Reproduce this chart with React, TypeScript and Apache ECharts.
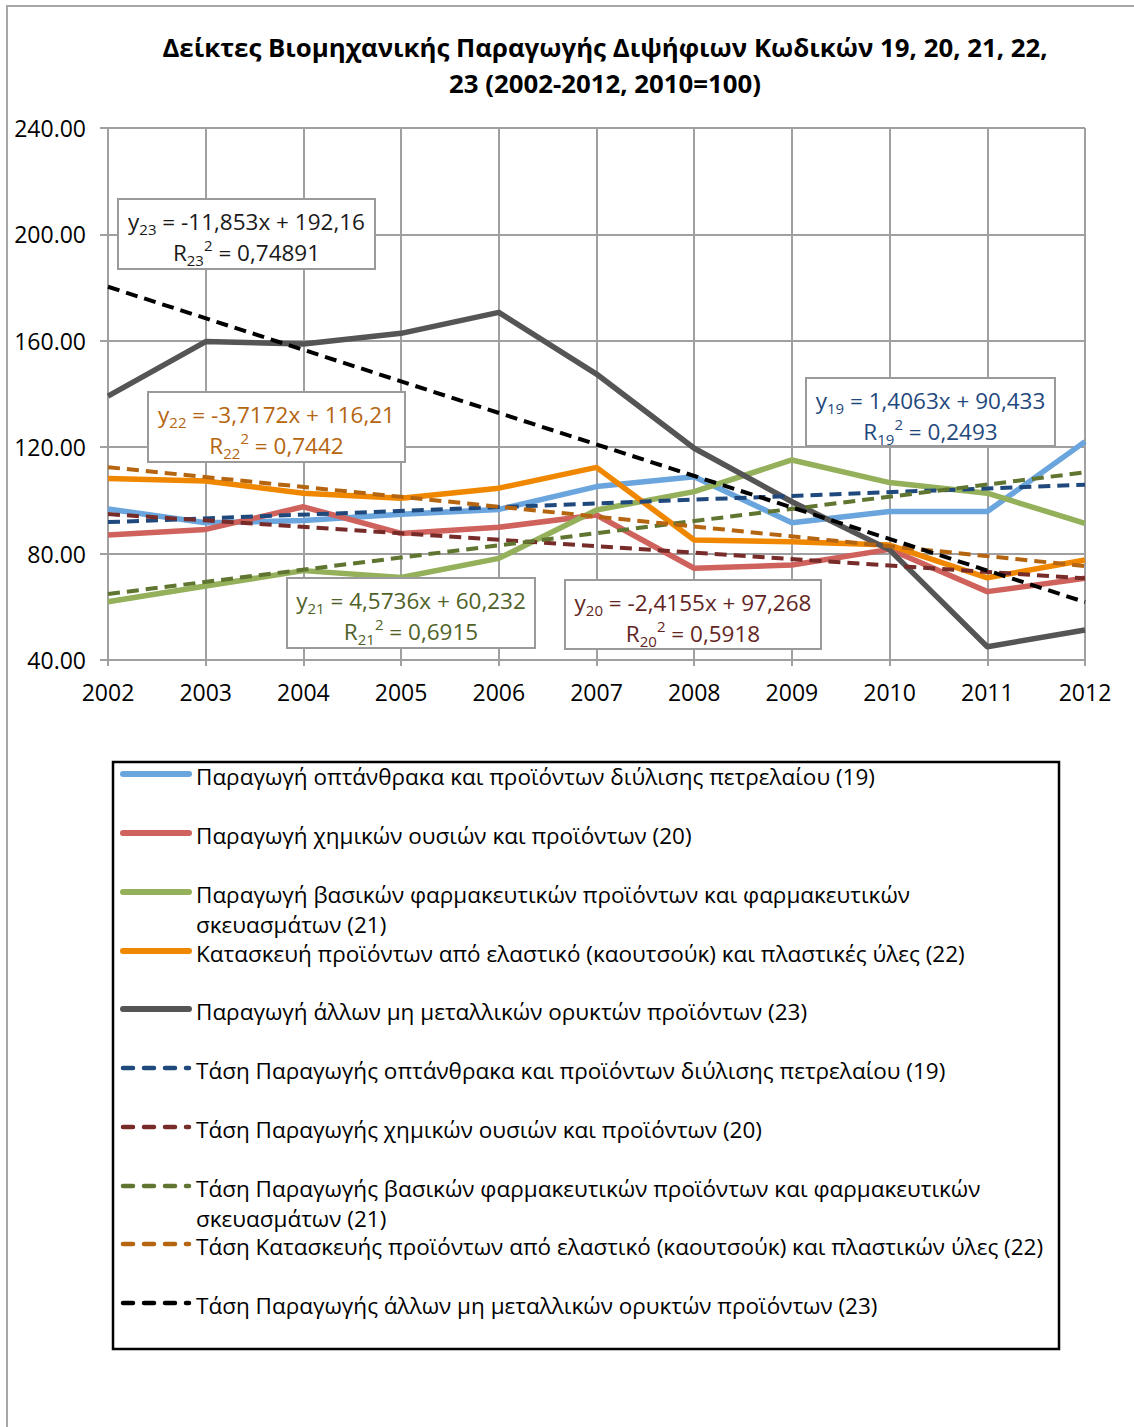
import React, { useEffect, useRef } from "react";
import * as echarts from "echarts";

const years = [2002, 2003, 2004, 2005, 2006, 2007, 2008, 2009, 2010, 2011, 2012];
const yTicks = [40, 80, 120, 160, 200, 240];

const s19 = [96.8, 91.6, 92.4, 94.8, 96.6, 105.2, 108.9, 91.6, 95.8, 95.8, 122.1];
const s20 = [87.0, 89.1, 97.6, 87.6, 89.9, 94.5, 74.5, 75.7, 81.6, 65.7, 70.7];
const s21 = [61.9, 67.8, 73.6, 71.0, 78.2, 96.4, 103.3, 115.2, 106.7, 102.7, 91.4];
const s22 = [108.2, 107.3, 102.7, 100.8, 104.6, 112.4, 85.1, 84.5, 83.2, 70.9, 77.6];
const s23 = [139.2, 159.7, 158.8, 162.8, 170.7, 147.5, 119.6, 99.5, 81.4, 45.0, 51.3];

// trend lines: value at 2002 and at 2012
const t19 = [91.84, 105.90];
const t20 = [94.85, 70.70];
const t21 = [64.81, 110.54];
const t22 = [112.49, 75.32];
const t23 = [180.31, 61.78];

const seriesNames = [
  "Παραγωγή οπτάνθρακα και προϊόντων διύλισης πετρελαίου (19)",
  "Παραγωγή χημικών ουσιών και προϊόντων (20)",
  "Παραγωγή βασικών φαρμακευτικών προϊόντων και φαρμακευτικών\nσκευασμάτων (21)",
  "Κατασκευή προϊόντων από ελαστικό (καουτσούκ) και πλαστικές ύλες (22)",
  "Παραγωγή άλλων μη μεταλλικών ορυκτών προϊόντων (23)",
];
const trendNames = [
  "Τάση Παραγωγής οπτάνθρακα και προϊόντων διύλισης πετρελαίου (19)",
  "Τάση Παραγωγής χημικών ουσιών και προϊόντων (20)",
  "Τάση Παραγωγής βασικών φαρμακευτικών προϊόντων και φαρμακευτικών\nσκευασμάτων (21)",
  "Τάση Κατασκευής προϊόντων από ελαστικό (καουτσούκ) και πλαστικών ύλες (22)",
  "Τάση Παραγωγής άλλων μη μεταλλικών ορυκτών προϊόντων (23)",
];
const equations = [
  { code: "19", eq: " = 1,4063x + 90,433", r2: " = 0,2493" },
  { code: "20", eq: " = -2,4155x + 97,268", r2: " = 0,5918" },
  { code: "21", eq: " = 4,5736x + 60,232", r2: " = 0,6915" },
  { code: "22", eq: " = -3,7172x + 116,21", r2: " = 0,7442" },
  { code: "23", eq: " = -11,853x + 192,16", r2: " = 0,74891" },
];

const titleLines = [
  "Δείκτες Βιομηχανικής Παραγωγής Διψήφιων Κωδικών 19, 20, 21, 22,",
  "23 (2002-2012, 2010=100)",
];

const lineColors = ["#6aa5de", "#cf625c", "#94b05a", "#f08700", "#555555"];
const trendColors = ["#1f497d", "#772c2a", "#5f7530", "#b5650f", "#000000"];
const eqColors = ["#1f497d", "#632523", "#4f6228", "#b5650f", "#1a1a1a"];

const FONT = "'Open Sans', 'Noto Sans', sans-serif";
const W = 1134;
const H = 1427;

// equation box geometry (pixels)
const eqBoxes = [
  { x: 806, y: 378, w: 249, h: 68 },
  { x: 565, y: 580, w: 256, h: 69 },
  { x: 287, y: 578, w: 248, h: 70 },
  { x: 148, y: 392, w: 257, h: 70 },
  { x: 118, y: 199, w: 257, h: 70 },
];

function eqGraphic(i: number) {
  const b = eqBoxes[i];
  const e = equations[i];
  const c = eqColors[i];
  const rich = {
    m: { fontSize: 22.5, fontFamily: FONT, fill: c, lineHeight: 30 },
    s: { fontSize: 15, fontFamily: FONT, fill: c, lineHeight: 15, verticalAlign: "bottom" },
    p: { fontSize: 15, fontFamily: FONT, fill: c, lineHeight: 15, verticalAlign: "top" },
  };
  return [
    {
      type: "rect",
      z: 100,
      shape: { x: b.x, y: b.y, width: b.w, height: b.h },
      style: { fill: "#ffffff", stroke: "#9a9a9a", lineWidth: 2 },
    },
    {
      type: "text",
      z: 101,
      x: b.x + b.w / 2,
      y: b.y + 22,
      style: {
        text: `{m|y}{s|${e.code}}{m|${e.eq}}`,
        rich,
        align: "center",
        verticalAlign: "middle",
      },
    },
    {
      type: "text",
      z: 101,
      x: b.x + b.w / 2,
      y: b.y + 53,
      style: {
        text: `{m|R}{s|${e.code}}{p|2}{m|${e.r2}}`,
        rich,
        align: "center",
        verticalAlign: "middle",
      },
    },
  ];
}

const legendRowsY = [777, 836, 895, 954, 1012, 1071, 1130, 1189, 1247, 1306];

function legendGraphic() {
  const children: any[] = [
    {
      type: "rect",
      z: 100,
      shape: { x: 113, y: 762, width: 946, height: 587 },
      style: { fill: "#ffffff", stroke: "#000000", lineWidth: 2.5 },
    },
  ];
  const all = [...seriesNames, ...trendNames];
  all.forEach((name, i) => {
    const y = legendRowsY[i];
    const dashed = i >= 5;
    const color = dashed ? trendColors[i - 5] : lineColors[i];
    children.push({
      type: "line",
      z: 101,
      shape: { x1: 123, y1: y - 3, x2: 189, y2: y - 3 },
      style: {
        stroke: color,
        lineWidth: dashed ? 4.5 : 6,
        lineCap: "round",
        lineDash: dashed ? [10, 11] : null,
      },
    });
    children.push({
      type: "text",
      z: 101,
      x: 196,
      y: y - 16,
      style: {
        text: name,
        fontSize: 22.5,
        fontFamily: FONT,
        fill: "#000000",
        lineHeight: 30,
        align: "left",
        verticalAlign: "top",
      },
    });
  });
  return children;
}

export default function App() {
  const ref = useRef<HTMLDivElement>(null);
  useEffect(() => {
    document.body.style.margin = "0";
    const chart = echarts.init(ref.current!, null, { renderer: "svg" });
    const solid = [s19, s20, s21, s22, s23];
    const trends = [t19, t20, t21, t22, t23];
    const series: any[] = [];
    solid.forEach((vals, i) => {
      series.push({
        name: seriesNames[i],
        type: "line",
        data: years.map((y, k) => [y, vals[k]]),
        showSymbol: false,
        lineStyle: { color: lineColors[i], width: 5.5, join: "round" },
        itemStyle: { color: lineColors[i] },
        z: 2 + i,
      });
    });
    trends.forEach((t, i) => {
      series.push({
        name: trendNames[i],
        type: "line",
        data: [
          [years[0], t[0]],
          [years[years.length - 1], t[1]],
        ],
        showSymbol: false,
        lineStyle: { color: trendColors[i], width: 4, type: [12, 7] },
        itemStyle: { color: trendColors[i] },
        z: 10 + i,
      });
    });

    const option: any = {
      animation: false,
      backgroundColor: "#ffffff",
      title: {
        text: titleLines.join("\n"),
        left: 600,
        top: 24,
        textAlign: "center",
        textStyle: {
          fontFamily: FONT,
          fontWeight: "bold",
          fontSize: 25.8,
          lineHeight: 36,
          color: "#000000",
        },
      },
      grid: { left: 108, right: W - 1085, top: 128, bottom: H - 660, containLabel: false },
      xAxis: {
        type: "value",
        min: years[0],
        max: years[years.length - 1],
        interval: 1,
        axisLine: { show: true, lineStyle: { color: "#a0a0a0", width: 2 } },
        axisTick: { show: true, length: 6, lineStyle: { color: "#a0a0a0", width: 2 } },
        splitLine: { show: true, lineStyle: { color: "#a0a0a0", width: 2 } },
        axisLabel: {
          fontFamily: FONT,
          fontSize: 23,
          color: "#000000",
          margin: 20,
          formatter: (v: number) => String(v),
        },
      },
      yAxis: {
        type: "value",
        min: yTicks[0],
        max: yTicks[yTicks.length - 1],
        interval: 40,
        axisLine: { show: true, lineStyle: { color: "#a0a0a0", width: 2 } },
        axisTick: { show: true, length: 8, lineStyle: { color: "#a0a0a0", width: 2 } },
        splitLine: { show: true, lineStyle: { color: "#a0a0a0", width: 2 } },
        axisLabel: {
          fontFamily: FONT,
          fontSize: 23,
          color: "#000000",
          margin: 22,
          formatter: (v: number) => v.toFixed(2),
        },
      },
      series,
      graphic: [
        {
          type: "rect",
          z: 0,
          shape: { x: 7, y: 6, width: W + 20, height: H + 20 },
          style: { fill: "none", stroke: "#a6a6a6", lineWidth: 2 },
          silent: true,
        },
        ...[4, 3, 2, 1, 0].flatMap((i) => eqGraphic(i)),
        ...legendGraphic(),
      ],
    };
    chart.setOption(option);
    return () => chart.dispose();
  }, []);
  return <div ref={ref} style={{ width: W, height: H }} />;
}
